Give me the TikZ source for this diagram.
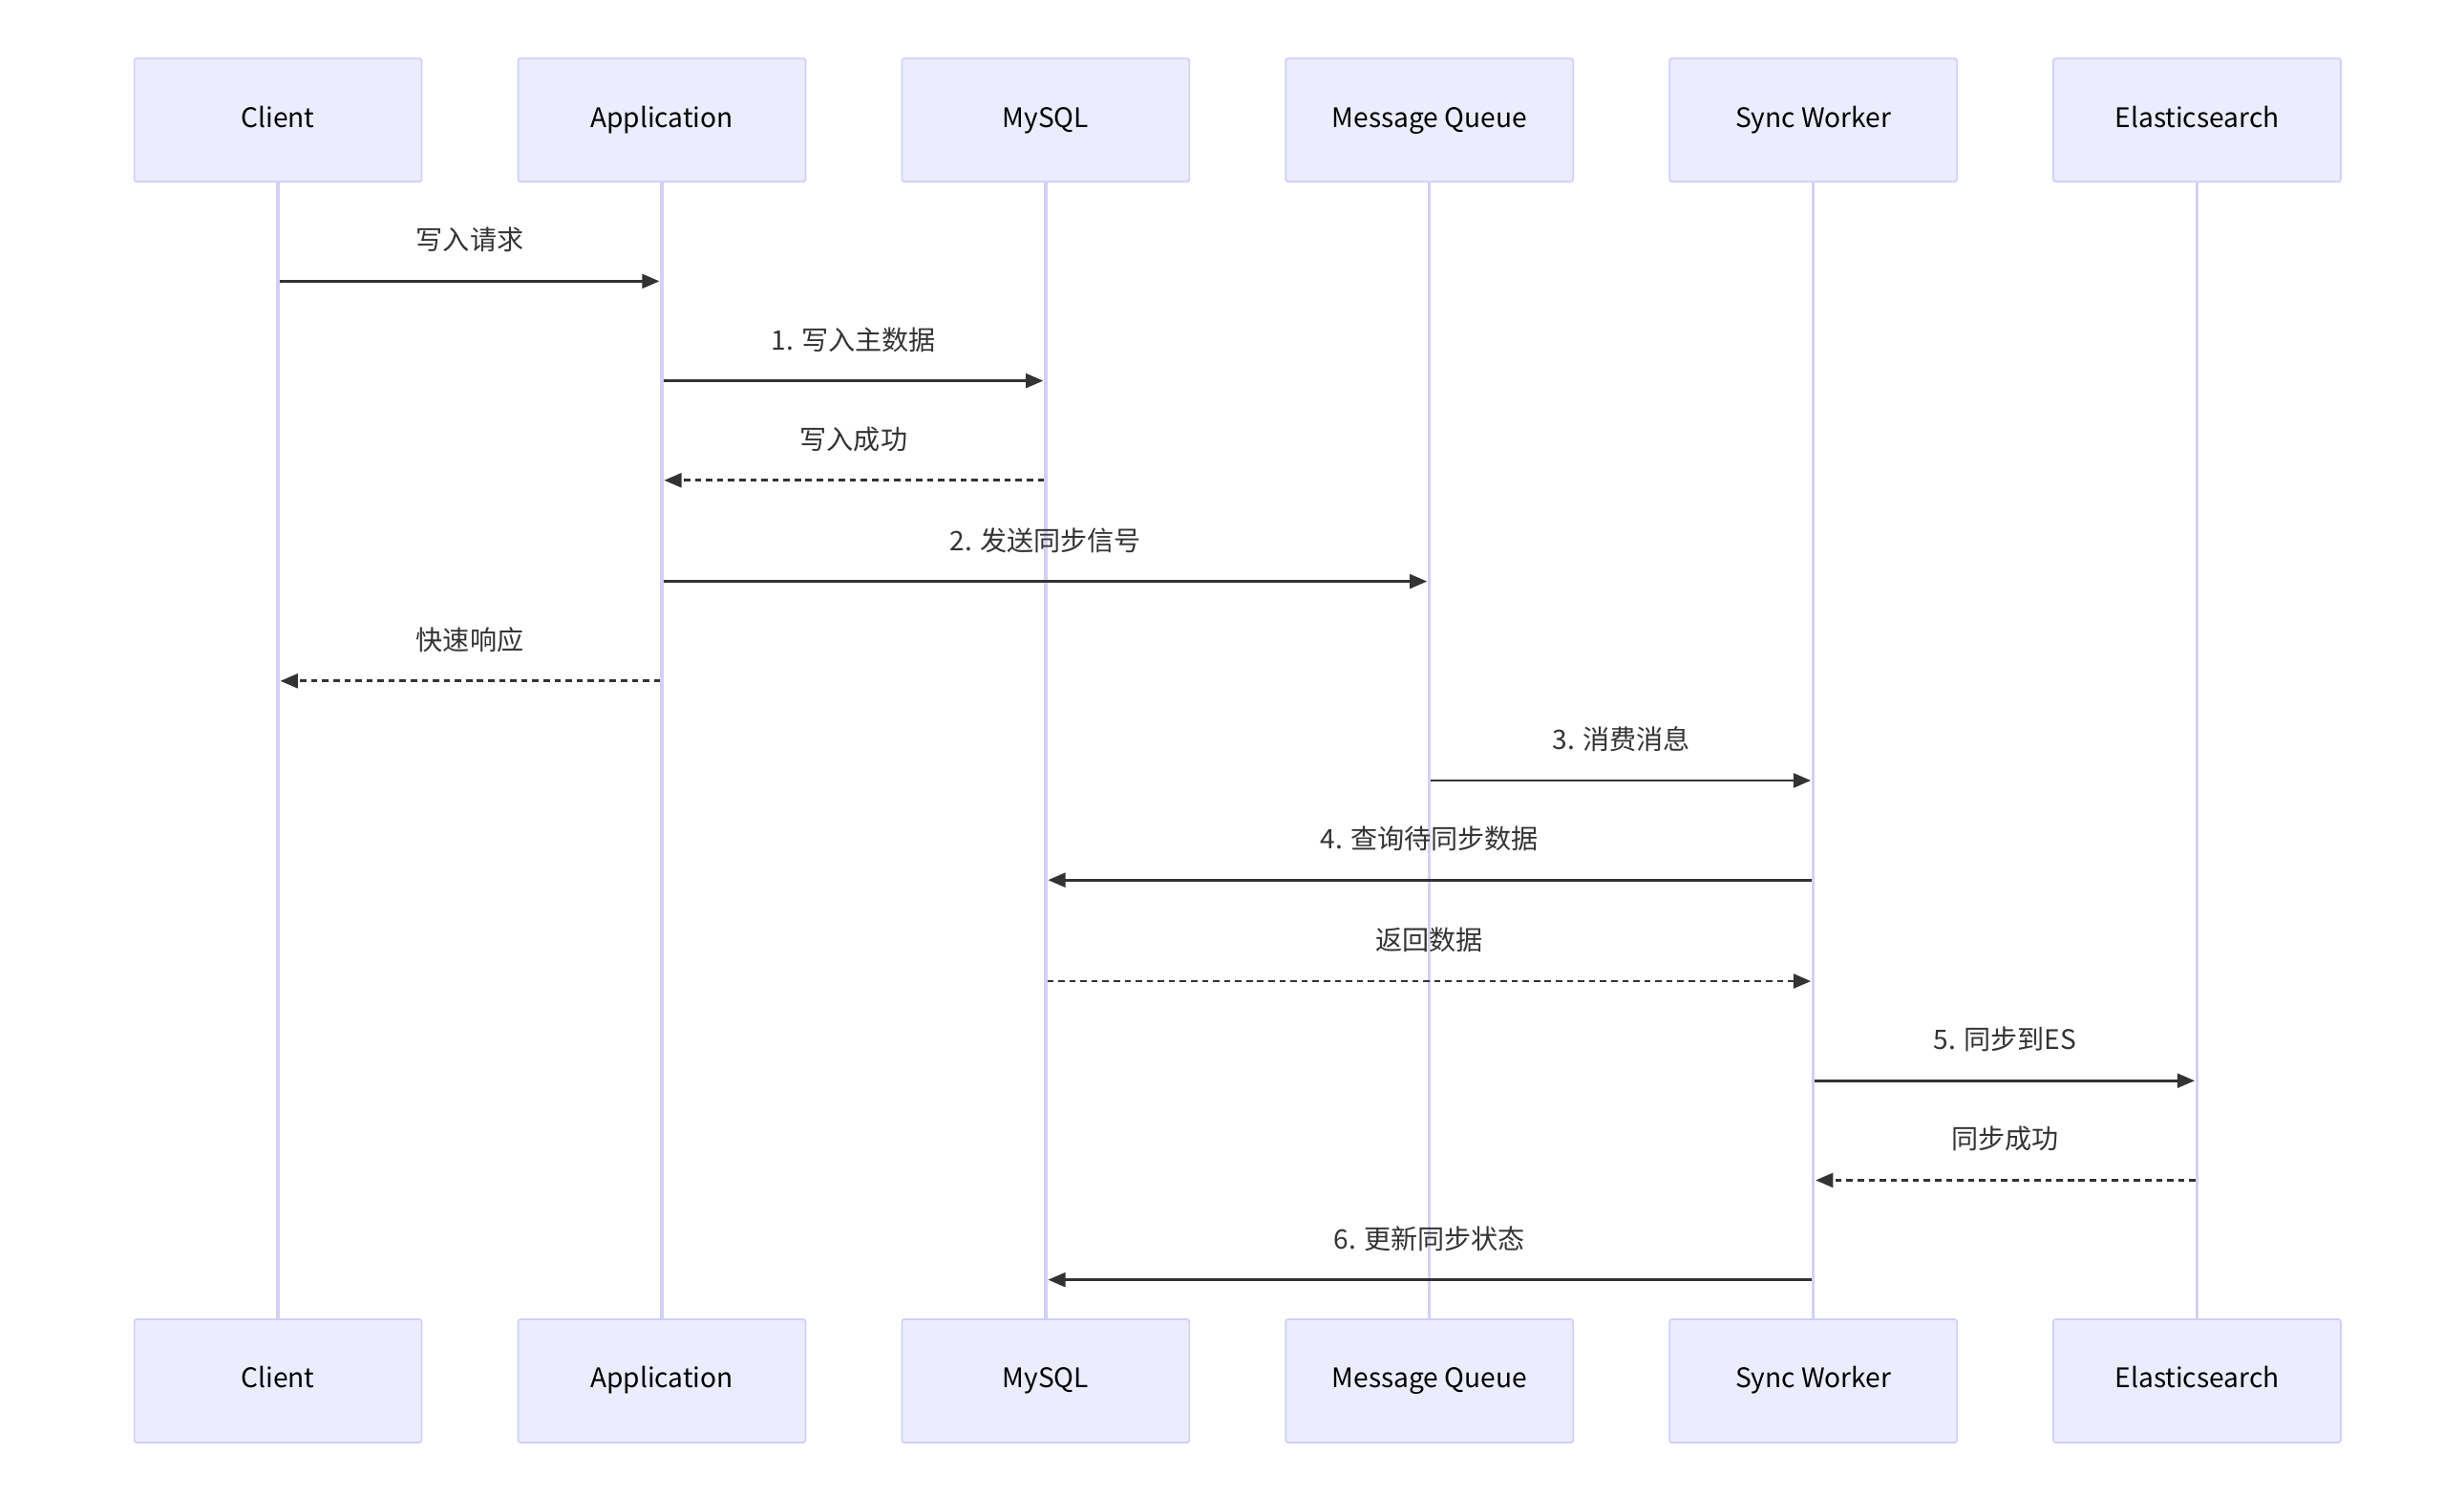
\documentclass[tikz,border=0pt]{standalone}
\usepackage{fontspec}
\setmainfont{Noto Sans CJK SC}
\usetikzlibrary{arrows.meta,calc}
\definecolor{boxfill}{HTML}{ECECFF}
\definecolor{boxline}{HTML}{CFCFF5}
\definecolor{life}{HTML}{D4D0F2}
\definecolor{ink}{HTML}{333333}
\begin{document}
\begin{tikzpicture}[x=1pt,y=-1pt,
  actor/.style={draw=boxline,fill=boxfill,line width=1pt,minimum width=182pt,minimum height=78pt,inner sep=0pt,font=\fontsize{17}{20}\selectfont,text=black,rounded corners=1.5pt,text height=12pt,text depth=3pt},
  msg/.style={draw=ink,line width=1.6pt,-{Triangle[length=11pt,width=9pt]}},
  ret/.style={msg,dash pattern=on 4pt off 3pt},
  lbl/.style={font=\fontsize{17}{20}\selectfont,text=ink,anchor=south,inner sep=0pt},
  lifeline/.style={draw=life,line width=2pt}]
\useasboundingbox (0,0) rectangle (1560,947);
\foreach \n/\x/\t in {c/176/Client,a/419/Application,m/662/MySQL,q/905/Message Queue,s/1148/Sync Worker,e/1391/Elasticsearch}{
  \node[actor] (\n t) at (\x,76) {\t};
  \node[actor] (\n b) at (\x,874) {\t};
  \draw[lifeline] (\n t.south) -- (\n b.north);
}
\foreach \f/\g/\y/\st/\t in {c/a/178/msg/写入请求, a/m/241/msg/1. 写入主数据, m/a/304/ret/写入成功, a/q/368/msg/2. 发送同步信号, a/c/431/ret/快速响应, q/s/494/msg/3. 消费消息, s/m/557/msg/4. 查询待同步数据, m/s/621/ret/返回数据, s/e/684/msg/5. 同步到ES, e/s/747/ret/同步成功, s/m/810/msg/6. 更新同步状态}{
  \path (\f t.south |- 0,\y) coordinate (from) (\g t.south |- 0,\y) coordinate (to);
  \draw[\st,shorten <=1pt,shorten >=1.5pt] (from) -- (to);
  \node[lbl] at ([yshift=18pt]$(from)!0.5!(to)$) {\t};
}
\end{tikzpicture}
\end{document}
